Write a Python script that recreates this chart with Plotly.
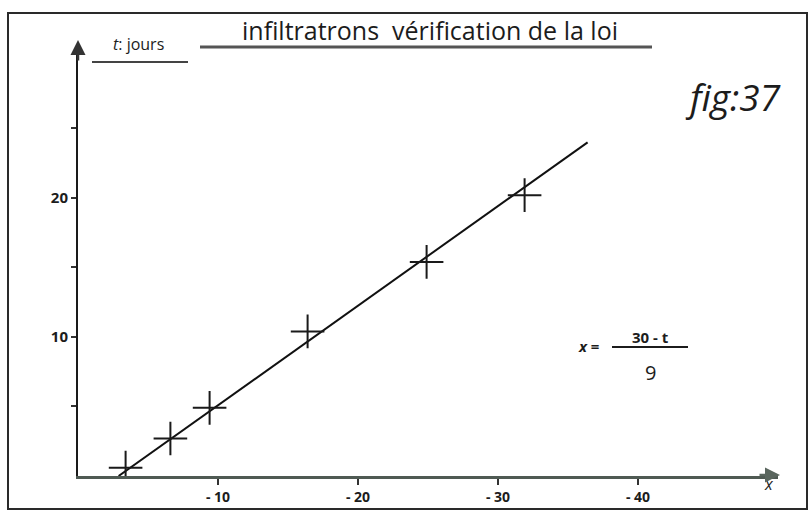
import plotly.graph_objects as go

# Measured points: x (plotted as negative values) and t in days
x_points = [-3.4, -6.6, -9.4, -16.4, -24.9, -31.9]
t_points = [0.6, 2.7, 4.9, 10.4, 15.4, 20.2]

# Fitted straight line, end points
x_line = [-2.9, -36.4]
t_line = [0.0, 24.0]

# Axis ticks
x_tickvals = [-10, -20, -30, -40]
x_ticktext = ["- 10", "- 20", "- 30", "- 40"]
y_tickvals = [5, 10, 15, 20, 25]
y_ticktext = ["", "10", "", "20", ""]

W, H = 810, 517
ML, MR, MT, MB = 78, 32, 45, 41
X_MIN, X_MAX = 0, -50
Y_MIN, Y_MAX = 0, 31


def px(x):
    return (x - ML) / (W - ML - MR)


def py(y):
    return (H - MB - y) / (H - MT - MB)


fig = go.Figure()

fig.add_trace(go.Scatter(
    x=x_line, y=t_line, mode="lines",
    line=dict(color="#111111", width=2),
    showlegend=False, hoverinfo="skip",
))
fig.add_trace(go.Scatter(
    x=x_points, y=t_points, mode="markers",
    marker=dict(symbol="cross-thin", size=24,
                line=dict(color="#1a1a1a", width=2)),
    showlegend=False,
))

hand = "Open Sans"
ink = "#1c1c1c"


def label(xp, yp, text, size, **kw):
    return dict(x=px(xp), y=py(yp), xref="paper", yref="paper",
                xanchor="center", yanchor="middle", text=text,
                showarrow=False, font=dict(family=hand, size=size, color=ink),
                **kw)


annotations = [
    label(430, 30, "infiltratrons  vérification de la loi", 25),
    label(138, 44, "<i>t</i>: jours", 16),
    label(733, 96, "<i>fig:37</i>", 37),
    label(588, 346, "<b><i>x</i> =</b>", 15),
    label(650, 337, "<b>30 - t</b>", 15),
    label(650, 372, "9", 20),
    label(769, 484, "<i>x</i>", 16),
    # arrowheads
    dict(x=px(78), y=py(40), xref="paper", yref="paper",
         ax=0, ay=22, axref="pixel", ayref="pixel",
         text="", showarrow=True, arrowhead=2, arrowsize=1.2,
         arrowwidth=2.5, arrowcolor="#333333"),
    dict(x=px(780), y=py(475), xref="paper", yref="paper",
         ax=-22, ay=0, axref="pixel", ayref="pixel",
         text="", showarrow=True, arrowhead=2, arrowsize=1.2,
         arrowwidth=2.5, arrowcolor="#5a665e"),
]

shapes = [
    # outer frame
    dict(type="rect", xref="paper", yref="paper",
         x0=px(8), x1=px(807), y0=py(509), y1=py(13),
         line=dict(color="#2a2a2a", width=2)),
    # title underline
    dict(type="line", xref="paper", yref="paper",
         x0=px(200), x1=px(652), y0=py(47), y1=py(47),
         line=dict(color="#555555", width=3)),
    # y label underline
    dict(type="line", xref="paper", yref="paper",
         x0=px(92), x1=px(188), y0=py(62), y1=py(62),
         line=dict(color="#444444", width=2)),
    # fraction bar
    dict(type="line", xref="paper", yref="paper",
         x0=px(612), x1=px(688), y0=py(347), y1=py(347),
         line=dict(color=ink, width=2)),
]

fig.update_layout(
    width=W, height=H,
    margin=dict(l=ML, r=MR, t=MT, b=MB, pad=0),
    paper_bgcolor="white", plot_bgcolor="white",
    annotations=annotations, shapes=shapes,
    xaxis=dict(
        range=[X_MIN, X_MAX], showgrid=False, zeroline=False,
        showline=True, linecolor="#4f5a53", linewidth=3,
        tickvals=x_tickvals, ticktext=x_ticktext,
        ticks="outside", ticklen=6, tickwidth=2, tickcolor="#333333",
        tickfont=dict(family=hand, size=14, color=ink, weight="bold"),
    ),
    yaxis=dict(
        range=[Y_MIN, Y_MAX], showgrid=False, zeroline=False,
        showline=True, linecolor="#1a1a1a", linewidth=2,
        tickvals=y_tickvals, ticktext=y_ticktext,
        ticks="outside", ticklen=5, tickwidth=2, tickcolor="#333333",
        tickfont=dict(family=hand, size=15, color=ink, weight="bold"),
    ),
)

fig.write_html("out.html")
